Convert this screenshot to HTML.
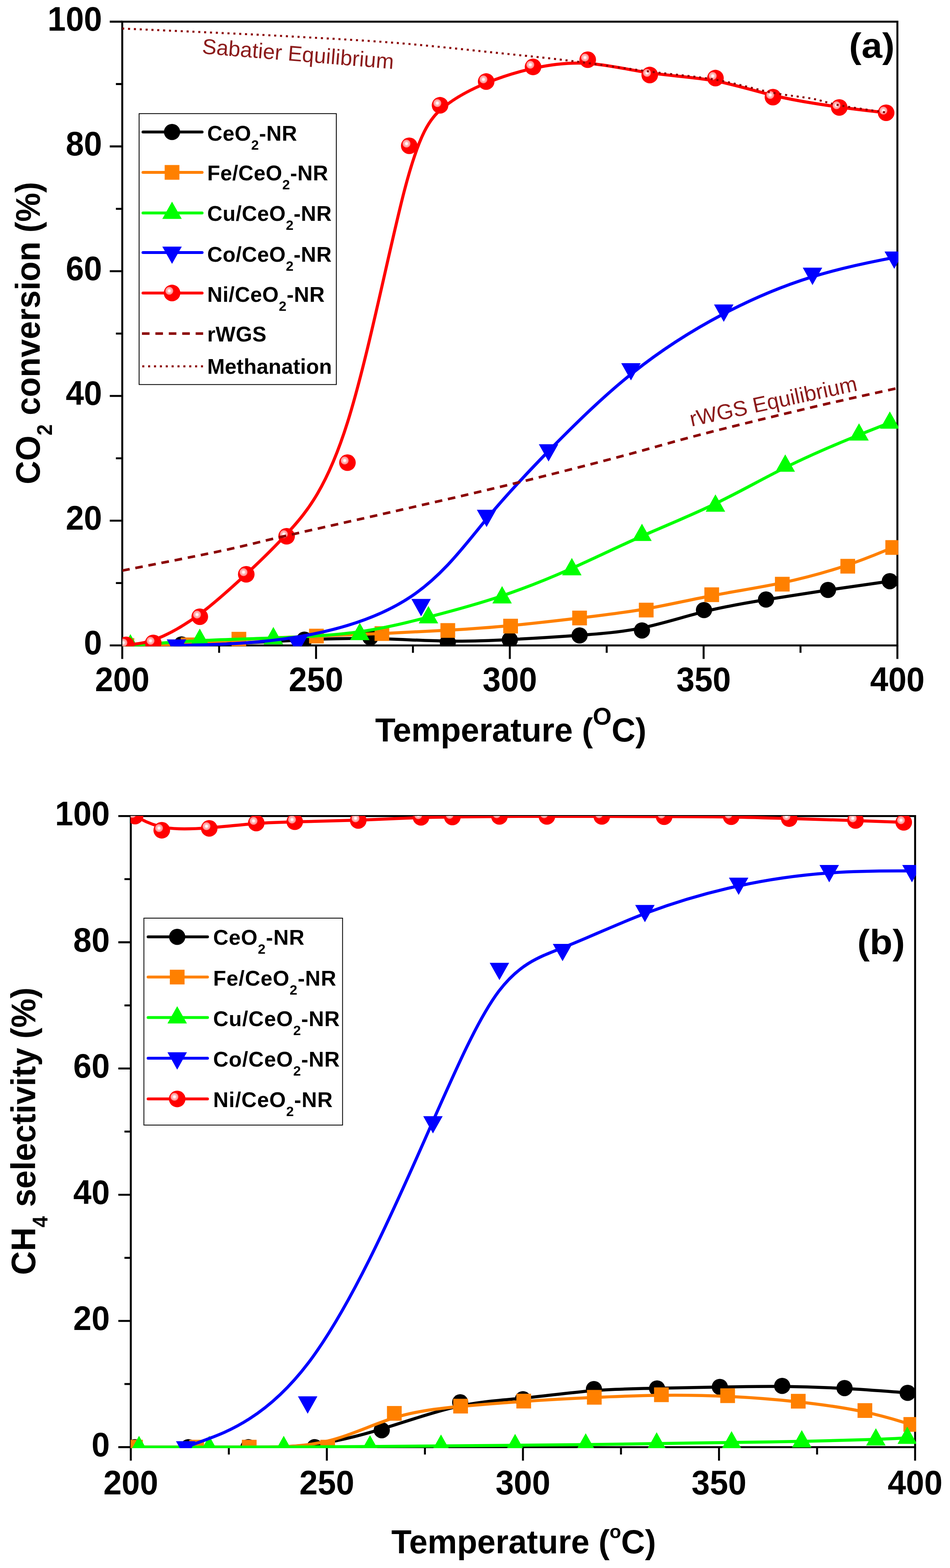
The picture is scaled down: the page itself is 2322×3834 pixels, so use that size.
<!DOCTYPE html>
<html lang="en">
<head>
<meta charset="utf-8">
<title>CO2 conversion and CH4 selectivity vs temperature</title>
<style>
html,body{margin:0;padding:0;background:#fff;}
body{width:2322px;height:3834px;overflow:hidden;}
svg{display:block;}
text{font-family:"Liberation Sans", sans-serif;fill:#000;}
.tk{font-size:82.7px;font-weight:bold;}
.ax{font-size:81px;font-weight:bold;}
.lg{font-size:51.5px;font-weight:bold;letter-spacing:0.55px;}
#chart-b .lg{font-size:51.8px;letter-spacing:0.95px;}
#chart-b .tk{font-size:83.2px;}
.pl{font-size:86px;font-weight:bold;}
.eq{font-size:52.5px;fill:#8b1a1a;}
</style>
</head>
<body>
<svg width="2322" height="3834" viewBox="0 0 2322 3834" role="img" aria-label="CO2 conversion and CH4 selectivity versus temperature">
<defs>
<radialGradient id="sph" cx="0.335" cy="0.37" r="0.25" fx="0.335" fy="0.37" gradientUnits="objectBoundingBox">
<stop offset="0" stop-color="#fff"/><stop offset="0.22" stop-color="#fff"/><stop offset="0.42" stop-color="#ffc4c4"/><stop offset="0.88" stop-color="#ff8c8c"/><stop offset="1" stop-color="#ff0000"/>
</radialGradient>
<clipPath id="clipa"><rect x="299.1" y="53.3" width="1896.6" height="1527.0"/></clipPath>
<clipPath id="clipb"><rect x="319.2" y="1994.9" width="1920.0" height="1546.1"/></clipPath>
</defs>
<rect width="2322" height="3834" fill="#fff"/>
<g id="chart-a">
<rect x="298.8" y="53.0" width="1894.6" height="1525.2" fill="none" stroke="#000" stroke-width="4.8"/>
<path d="M298.8,1578.2h-30.5M298.8,1425.7h-15.5M298.8,1273.2h-30.5M298.8,1120.6h-15.5M298.8,968.1h-30.5M298.8,815.6h-15.5M298.8,663.1h-30.5M298.8,510.6h-15.5M298.8,358.0h-30.5M298.8,205.5h-15.5M298.8,53.0h-30.5M298.8,1578.2v33.0M535.6,1578.2v18.0M772.5,1578.2v33.0M1009.3,1578.2v18.0M1246.1,1578.2v33.0M1482.9,1578.2v18.0M1719.8,1578.2v33.0M1956.6,1578.2v18.0M2193.4,1578.2v33.0" stroke="#000" stroke-width="4.8" fill="none"/>
<g clip-path="url(#clipa)">
<path d="M308.3,1578.2C308.3,1578.2 308.3,1578.2 330.9,1577.8C353.4,1577.4 398.6,1576.7 444.4,1575.9C490.2,1575.1 536.6,1574.4 586.6,1572.4C636.7,1570.4 690.4,1567.2 744.0,1564.7C797.7,1562.1 851.4,1560.3 909.8,1561.3C968.2,1562.4 1031.4,1566.5 1088.2,1567.5C1145.1,1568.5 1195.6,1566.5 1249.3,1563.7C1302.9,1560.9 1359.8,1557.4 1413.6,1553.5C1467.5,1549.7 1518.3,1545.7 1569.0,1535.3C1619.7,1525.0 1670.2,1508.3 1720.7,1495.7C1771.2,1483.1 1821.7,1474.5 1872.3,1466.3C1922.8,1458.1 1973.3,1450.3 2023.8,1442.8C2074.2,1435.3 2124.6,1428.2 2149.7,1424.7C2174.9,1421.1 2174.9,1421.1 2174.9,1421.1" fill="none" stroke="#000" stroke-width="7.5" stroke-linejoin="round" />
<circle cx="308.3" cy="1578.2" r="19.8" fill="#000"/>
<circle cx="443.7" cy="1575.9" r="19.8" fill="#000"/>
<circle cx="583.0" cy="1573.6" r="19.8" fill="#000"/>
<circle cx="744.0" cy="1564.0" r="19.8" fill="#000"/>
<circle cx="905.1" cy="1558.4" r="19.8" fill="#000"/>
<circle cx="1094.5" cy="1570.6" r="19.8" fill="#000"/>
<circle cx="1246.1" cy="1564.5" r="19.8" fill="#000"/>
<circle cx="1416.6" cy="1553.8" r="19.8" fill="#000"/>
<circle cx="1569.1" cy="1541.6" r="19.8" fill="#000"/>
<circle cx="1720.7" cy="1491.7" r="19.8" fill="#000"/>
<circle cx="1872.3" cy="1465.9" r="19.8" fill="#000"/>
<circle cx="2023.8" cy="1442.5" r="19.8" fill="#000"/>
<circle cx="2174.9" cy="1421.1" r="19.8" fill="#000"/>
<path d="M310.2,1578.2C310.2,1578.2 310.2,1578.2 335.1,1577.9C360.1,1577.7 409.9,1577.2 455.6,1574.6C501.2,1572.1 542.6,1567.5 594.8,1564.0C647.1,1560.4 710.2,1557.9 768.5,1555.6C826.8,1553.3 880.1,1551.3 933.6,1549.0C987.2,1546.7 1040.9,1544.1 1093.3,1541.1C1145.7,1538.0 1196.8,1534.5 1250.5,1529.4C1304.2,1524.3 1360.4,1517.7 1415.7,1511.2C1470.9,1504.6 1525.2,1498.2 1579.1,1488.7C1632.9,1479.2 1686.3,1466.7 1741.7,1456.2C1797.1,1445.6 1854.6,1437.0 1910.0,1425.4C1965.4,1413.8 2018.8,1399.1 2063.8,1384.2C2108.8,1369.2 2145.4,1354.0 2163.7,1346.4C2182.0,1338.7 2182.0,1338.7 2182.0,1338.7" fill="none" stroke="#ff8000" stroke-width="7.5" stroke-linejoin="round" />
<rect x="292.2" y="1560.2" width="36.0" height="36.0" fill="#ff8000"/>
<rect x="441.8" y="1558.7" width="36.0" height="36.0" fill="#ff8000"/>
<rect x="565.9" y="1544.9" width="36.0" height="36.0" fill="#ff8000"/>
<rect x="755.4" y="1537.3" width="36.0" height="36.0" fill="#ff8000"/>
<rect x="915.5" y="1531.2" width="36.0" height="36.0" fill="#ff8000"/>
<rect x="1076.5" y="1523.6" width="36.0" height="36.0" fill="#ff8000"/>
<rect x="1230.0" y="1512.9" width="36.0" height="36.0" fill="#ff8000"/>
<rect x="1398.6" y="1493.1" width="36.0" height="36.0" fill="#ff8000"/>
<rect x="1561.5" y="1473.7" width="36.0" height="36.0" fill="#ff8000"/>
<rect x="1721.6" y="1436.2" width="36.0" height="36.0" fill="#ff8000"/>
<rect x="1894.1" y="1410.4" width="36.0" height="36.0" fill="#ff8000"/>
<rect x="2054.1" y="1366.5" width="36.0" height="36.0" fill="#ff8000"/>
<rect x="2164.0" y="1320.7" width="36.0" height="36.0" fill="#ff8000"/>
<path d="M318.7,1578.2C318.7,1578.2 318.7,1578.2 347.0,1576.0C375.2,1573.8 431.7,1569.4 490.0,1566.5C548.3,1563.6 608.3,1562.2 673.5,1559.8C738.7,1557.5 809.1,1554.1 872.2,1545.6C935.4,1537.0 991.3,1523.3 1049.2,1508.3C1107.2,1493.3 1167.2,1477.0 1225.6,1457.5C1284.0,1437.9 1340.8,1415.0 1397.8,1389.6C1454.8,1364.2 1512.0,1336.2 1570.5,1310.3C1629.0,1284.3 1688.9,1260.5 1747.2,1232.2C1805.6,1204.0 1862.4,1171.5 1920.9,1142.5C1979.4,1113.5 2039.5,1088.1 2082.1,1070.6C2124.7,1053.0 2149.8,1043.4 2162.4,1038.5C2174.9,1033.7 2174.9,1033.7 2174.9,1033.7" fill="none" stroke="#00ff00" stroke-width="7.5" stroke-linejoin="round" />
<polygon points="318.7,1550.4 294.9,1592.8 342.5,1592.8" fill="#00ff00"/>
<polygon points="488.3,1537.1 464.5,1579.5 512.1,1579.5" fill="#00ff00"/>
<polygon points="668.2,1533.0 644.4,1575.4 692.0,1575.4" fill="#00ff00"/>
<polygon points="879.5,1522.9 855.7,1565.3 903.3,1565.3" fill="#00ff00"/>
<polygon points="1047.2,1481.8 1023.4,1524.2 1071.0,1524.2" fill="#00ff00"/>
<polygon points="1227.2,1433.0 1203.4,1475.4 1251.0,1475.4" fill="#00ff00"/>
<polygon points="1397.7,1364.3 1373.9,1406.7 1421.5,1406.7" fill="#00ff00"/>
<polygon points="1569.1,1280.4 1545.3,1322.8 1592.9,1322.8" fill="#00ff00"/>
<polygon points="1748.7,1208.8 1724.9,1251.2 1772.5,1251.2" fill="#00ff00"/>
<polygon points="1919.3,1111.1 1895.5,1153.5 1943.1,1153.5" fill="#00ff00"/>
<polygon points="2099.6,1034.9 2075.8,1077.3 2123.4,1077.3" fill="#00ff00"/>
<polygon points="2174.9,1005.9 2151.1,1048.3 2198.7,1048.3" fill="#00ff00"/>
<path d="M431.4,1578.2C431.4,1578.2 431.4,1578.2 480.7,1577.1C529.9,1575.9 628.5,1573.6 728.1,1557.1C827.7,1540.6 928.4,1509.8 1005.5,1458.1C1082.5,1406.4 1135.9,1333.7 1187.8,1270.6C1239.8,1207.6 1290.3,1154.2 1349.1,1094.5C1408.0,1034.7 1475.1,968.6 1546.5,911.7C1617.8,854.7 1693.4,807.0 1767.4,768.1C1841.3,729.2 1913.6,699.2 1983.1,677.6C2052.6,656.0 2119.2,642.7 2152.5,636.1C2185.8,629.5 2185.8,629.5 2185.8,629.5" fill="none" stroke="#0000ff" stroke-width="7.5" stroke-linejoin="round" />
<polygon points="431.4,1606.0 407.6,1563.6 455.2,1563.6" fill="#0000ff"/>
<polygon points="727.0,1599.1 703.2,1556.7 750.8,1556.7" fill="#0000ff"/>
<polygon points="1029.2,1506.9 1005.4,1464.5 1053.0,1464.5" fill="#0000ff"/>
<polygon points="1189.3,1288.8 1165.5,1246.4 1213.1,1246.4" fill="#0000ff"/>
<polygon points="1340.8,1128.6 1317.0,1086.2 1364.6,1086.2" fill="#0000ff"/>
<polygon points="1542.2,930.3 1518.4,887.9 1566.0,887.9" fill="#0000ff"/>
<polygon points="1769.0,787.0 1745.2,744.6 1792.8,744.6" fill="#0000ff"/>
<polygon points="1985.9,697.0 1962.1,654.6 2009.7,654.6" fill="#0000ff"/>
<polygon points="2185.8,657.3 2162.0,614.9 2209.6,614.9" fill="#0000ff"/>
<path d="M308.3,1576.7C308.3,1576.7 308.3,1576.7 319.3,1575.9C330.4,1575.1 352.5,1573.6 382.5,1562.2C412.5,1550.7 450.4,1529.4 488.3,1501.4C526.2,1473.5 564.0,1438.9 599.4,1406.1C634.8,1373.3 667.6,1342.3 708.8,1296.8C750.0,1251.3 799.6,1191.3 849.6,1032.2C899.5,873.0 949.9,614.8 987.6,469.1C1025.4,323.5 1050.5,290.4 1081.8,264.2C1113.2,238.1 1150.7,218.7 1188.6,203.1C1226.5,187.5 1264.7,175.5 1306.1,166.6C1347.5,157.7 1392.0,151.9 1439.5,155.2C1487.0,158.5 1537.6,170.9 1589.6,178.4C1641.6,185.9 1695.2,188.4 1745.4,197.4C1795.6,206.4 1842.5,222.0 1892.9,234.0C1943.3,245.9 1997.3,254.3 2043.4,260.7C2089.5,267.0 2127.7,271.4 2146.8,273.5C2165.9,275.7 2165.9,275.7 2165.9,275.7" fill="none" stroke="#ff0000" stroke-width="7.5" stroke-linejoin="round" />
<circle cx="308.3" cy="1576.7" r="20.3" fill="url(#sph)"/>
<circle cx="374.6" cy="1572.1" r="20.3" fill="url(#sph)"/>
<circle cx="488.3" cy="1508.0" r="20.3" fill="url(#sph)"/>
<circle cx="601.9" cy="1404.3" r="20.3" fill="url(#sph)"/>
<circle cx="700.5" cy="1311.3" r="20.3" fill="url(#sph)"/>
<circle cx="849.2" cy="1131.3" r="20.3" fill="url(#sph)"/>
<circle cx="1000.3" cy="356.5" r="20.3" fill="url(#sph)"/>
<circle cx="1075.6" cy="257.4" r="20.3" fill="url(#sph)"/>
<circle cx="1188.3" cy="199.4" r="20.3" fill="url(#sph)"/>
<circle cx="1302.9" cy="163.6" r="20.3" fill="url(#sph)"/>
<circle cx="1436.5" cy="146.0" r="20.3" fill="url(#sph)"/>
<circle cx="1588.1" cy="183.4" r="20.3" fill="url(#sph)"/>
<circle cx="1748.7" cy="190.9" r="20.3" fill="url(#sph)"/>
<circle cx="1889.3" cy="237.5" r="20.3" fill="url(#sph)"/>
<circle cx="2051.3" cy="262.7" r="20.3" fill="url(#sph)"/>
<circle cx="2165.9" cy="275.7" r="20.3" fill="url(#sph)"/>
<path d="M298.8,1395.2C338.4,1387.3 469.6,1362.1 536.6,1347.9C603.5,1333.7 628.5,1326.2 700.5,1309.8C772.4,1293.3 878.7,1269.8 968.1,1249.4C1057.4,1228.9 1148.0,1208.6 1236.6,1187.1C1325.3,1165.7 1419.8,1141.6 1500.0,1120.6C1580.2,1099.6 1636.9,1082.0 1717.9,1061.2C1798.8,1040.3 1906.7,1014.3 1985.9,995.6C2065.2,976.9 2158.8,956.8 2193.4,949.1" fill="none" stroke="#8b0000" stroke-linejoin="round" stroke-dasharray="18.5 14.1" stroke-width="6.4"/>
<path d="M298.8,69.8C338.4,71.6 469.8,77.3 536.6,80.5C603.4,83.6 627.6,84.5 699.5,88.5C771.4,92.6 878.5,97.7 968.1,104.9C1057.6,112.0 1165.0,124.2 1236.6,131.5C1308.2,138.9 1339.1,141.8 1397.7,149.1C1456.2,156.3 1529.7,167.4 1588.1,175.0C1646.5,182.6 1698.0,186.2 1748.2,194.8C1798.4,203.5 1849.7,219.1 1889.3,226.9C1928.9,234.6 1958.9,236.3 1985.9,241.4C2012.9,246.4 2020.5,251.7 2051.3,257.4C2082.1,263.1 2150.8,272.6 2170.7,275.7" fill="none" stroke="#8b0000" stroke-linejoin="round" stroke-dasharray="5 9.3" stroke-width="4.9"/>
</g>
<text transform="translate(249.5,1600.2) scale(0.966,1)" text-anchor="end" class="tk">0</text>
<text transform="translate(249.5,1295.2) scale(0.966,1)" text-anchor="end" class="tk">20</text>
<text transform="translate(249.5,990.1) scale(0.966,1)" text-anchor="end" class="tk">40</text>
<text transform="translate(249.5,685.1) scale(0.966,1)" text-anchor="end" class="tk">60</text>
<text transform="translate(249.5,380.0) scale(0.966,1)" text-anchor="end" class="tk">80</text>
<text transform="translate(249.5,75.0) scale(0.966,1)" text-anchor="end" class="tk">100</text>
<text transform="translate(298.8,1690.0) scale(0.966,1)" text-anchor="middle" class="tk">200</text>
<text transform="translate(772.5,1690.0) scale(0.966,1)" text-anchor="middle" class="tk">250</text>
<text transform="translate(1246.1,1690.0) scale(0.966,1)" text-anchor="middle" class="tk">300</text>
<text transform="translate(1719.8,1690.0) scale(0.966,1)" text-anchor="middle" class="tk">350</text>
<text transform="translate(2193.4,1690.0) scale(0.966,1)" text-anchor="middle" class="tk">400</text>
<rect x="340.0" y="277.8" width="482.0" height="662.5" fill="#fff" stroke="#000" stroke-width="2"/>
<path d="M349.5,322.7H494.0" stroke="#000" stroke-width="7.0" stroke-linecap="round"/>
<circle cx="420.5" cy="322.7" r="19.8" fill="#000"/>
<text x="506.5" y="344.0" class="lg">CeO<tspan dy="22" font-size="33.5">2</tspan><tspan dy="-22">-NR</tspan></text>
<path d="M349.5,421.5H494.0" stroke="#ff8000" stroke-width="7.0" stroke-linecap="round"/>
<rect x="402.5" y="403.5" width="36.0" height="36.0" fill="#ff8000"/>
<text x="506.5" y="441.0" class="lg">Fe/CeO<tspan dy="22" font-size="33.5">2</tspan><tspan dy="-22">-NR</tspan></text>
<path d="M349.5,520.7H494.0" stroke="#00ff00" stroke-width="7.0" stroke-linecap="round"/>
<polygon points="420.5,492.9 396.7,535.3 444.3,535.3" fill="#00ff00"/>
<text x="506.5" y="539.8" class="lg">Cu/CeO<tspan dy="22" font-size="33.5">2</tspan><tspan dy="-22">-NR</tspan></text>
<path d="M349.5,617.5H494.0" stroke="#0000ff" stroke-width="7.0" stroke-linecap="round"/>
<polygon points="420.5,645.3 396.7,602.9 444.3,602.9" fill="#0000ff"/>
<text x="506.5" y="639.7" class="lg">Co/CeO<tspan dy="22" font-size="33.5">2</tspan><tspan dy="-22">-NR</tspan></text>
<path d="M349.5,716.4H494.0" stroke="#ff0000" stroke-width="7.0" stroke-linecap="round"/>
<circle cx="420.5" cy="716.4" r="20.3" fill="url(#sph)"/>
<text x="506.5" y="737.5" class="lg">Ni/CeO<tspan dy="22" font-size="33.5">2</tspan><tspan dy="-22">-NR</tspan></text>
<path d="M347.0,815.6H496.5" stroke="#8b0000" stroke-width="6.4" stroke-dasharray="18.5 14.3"/>
<text x="506.5" y="834.7" class="lg">rWGS</text>
<path d="M347.0,895.7H496.5" stroke="#8b0000" stroke-width="4.9" stroke-dasharray="5 9.35" stroke-dashoffset="-0.7"/>
<text x="506.5" y="914.4" class="lg" style="letter-spacing:0.15px">Methanation</text>
<text transform="translate(2131,141) scale(1.06,1)" text-anchor="middle" class="pl">(a)</text>
<text transform="translate(493,131) rotate(4.6)" class="eq">Sabatier Equilibrium</text>
<text transform="translate(1690,1043) rotate(-12.2)" class="eq">rWGS Equilibrium</text>
<text x="917" y="1812.5" class="ax" textLength="663" lengthAdjust="spacing">Temperature (<tspan dy="-41" font-size="59">O</tspan><tspan dy="41">C)</tspan></text>
<text transform="translate(97,814.5) rotate(-90) scale(0.9826,1.035)" text-anchor="middle" class="ax">CO<tspan dy="29" font-size="50">2</tspan><tspan dy="-29"> conversion (%)</tspan></text>
</g>
<g id="chart-b">
<rect x="319.7" y="1995.4" width="1917.0" height="1543.1" fill="none" stroke="#000" stroke-width="4.8"/>
<path d="M319.7,3538.5h-30.5M319.7,3384.2h-15.5M319.7,3229.9h-30.5M319.7,3075.6h-15.5M319.7,2921.3h-30.5M319.7,2766.9h-15.5M319.7,2612.6h-30.5M319.7,2458.3h-15.5M319.7,2304.0h-30.5M319.7,2149.7h-15.5M319.7,1995.4h-30.5M319.7,3538.5v33.0M559.3,3538.5v18.0M798.9,3538.5v33.0M1038.6,3538.5v18.0M1278.2,3538.5v33.0M1517.8,3538.5v18.0M1757.4,3538.5v33.0M1997.1,3538.5v18.0M2236.7,3538.5v33.0" stroke="#000" stroke-width="4.8" fill="none"/>
<g clip-path="url(#clipb)">
<path d="M329.3,3538.5C329.3,3538.5 329.3,3538.5 351.2,3538.5C373.1,3538.5 416.8,3538.5 463.2,3538.5C509.5,3538.5 558.4,3538.5 609.8,3538.5C661.2,3538.5 715.2,3538.5 769.6,3531.6C823.9,3524.7 878.5,3510.9 937.8,3492.7C997.0,3474.4 1060.9,3451.7 1118.5,3439.0C1176.0,3426.4 1227.1,3423.8 1281.6,3418.4C1336.0,3413.0 1393.9,3404.8 1448.5,3400.4C1503.1,3396.0 1554.6,3395.5 1605.8,3394.6C1657.1,3393.8 1708.2,3392.5 1759.2,3391.5C1810.2,3390.5 1861.0,3389.6 1911.8,3390.1C1962.6,3390.6 2013.4,3392.3 2064.5,3395.1C2115.6,3398.0 2167.0,3401.9 2192.8,3403.8C2218.5,3405.8 2218.5,3405.8 2218.5,3405.8" fill="none" stroke="#000" stroke-width="7.5" stroke-linejoin="round" />
<circle cx="329.3" cy="3538.5" r="19.8" fill="#000"/>
<circle cx="460.6" cy="3538.5" r="19.8" fill="#000"/>
<circle cx="607.2" cy="3538.5" r="19.8" fill="#000"/>
<circle cx="769.2" cy="3538.5" r="19.8" fill="#000"/>
<circle cx="933.1" cy="3497.1" r="19.8" fill="#000"/>
<circle cx="1124.8" cy="3428.9" r="19.8" fill="#000"/>
<circle cx="1278.2" cy="3421.2" r="19.8" fill="#000"/>
<circle cx="1451.7" cy="3396.5" r="19.8" fill="#000"/>
<circle cx="1606.0" cy="3395.0" r="19.8" fill="#000"/>
<circle cx="1759.4" cy="3391.3" r="19.8" fill="#000"/>
<circle cx="1911.8" cy="3388.8" r="19.8" fill="#000"/>
<circle cx="2064.2" cy="3394.1" r="19.8" fill="#000"/>
<circle cx="2218.5" cy="3405.8" r="19.8" fill="#000"/>
<path d="M331.2,3538.5C331.2,3538.5 331.2,3538.5 356.1,3538.5C381.0,3538.5 430.9,3538.5 477.2,3538.5C523.5,3538.5 566.4,3538.5 619.7,3538.5C673.1,3538.5 737.0,3538.5 796.1,3524.7C855.2,3511.0 909.5,3483.5 963.7,3466.7C1017.8,3450.0 1071.8,3444.1 1124.5,3439.1C1177.2,3434.1 1228.7,3430.0 1283.2,3426.4C1337.6,3422.8 1395.1,3419.7 1451.2,3417.1C1507.3,3414.5 1561.9,3412.5 1616.2,3411.8C1670.5,3411.2 1724.5,3412.0 1780.3,3414.6C1836.0,3417.2 1893.6,3421.7 1949.5,3427.7C2005.4,3433.8 2059.7,3441.4 2105.5,3450.9C2151.4,3460.3 2188.8,3471.6 2207.5,3477.3C2226.2,3482.9 2226.2,3482.9 2226.2,3482.9" fill="none" stroke="#ff8000" stroke-width="7.5" stroke-linejoin="round" />
<rect x="313.2" y="3520.5" width="36.0" height="36.0" fill="#ff8000"/>
<rect x="462.7" y="3520.5" width="36.0" height="36.0" fill="#ff8000"/>
<rect x="591.2" y="3520.5" width="36.0" height="36.0" fill="#ff8000"/>
<rect x="782.9" y="3520.5" width="36.0" height="36.0" fill="#ff8000"/>
<rect x="945.8" y="3437.9" width="36.0" height="36.0" fill="#ff8000"/>
<rect x="1107.8" y="3420.2" width="36.0" height="36.0" fill="#ff8000"/>
<rect x="1262.1" y="3407.9" width="36.0" height="36.0" fill="#ff8000"/>
<rect x="1434.6" y="3398.6" width="36.0" height="36.0" fill="#ff8000"/>
<rect x="1598.6" y="3392.4" width="36.0" height="36.0" fill="#ff8000"/>
<rect x="1760.5" y="3394.7" width="36.0" height="36.0" fill="#ff8000"/>
<rect x="1933.1" y="3408.2" width="36.0" height="36.0" fill="#ff8000"/>
<rect x="2096.0" y="3431.0" width="36.0" height="36.0" fill="#ff8000"/>
<rect x="2208.2" y="3464.9" width="36.0" height="36.0" fill="#ff8000"/>
<path d="M339.8,3538.5C339.8,3538.5 339.8,3538.5 368.4,3538.5C397.0,3538.5 454.2,3538.5 513.2,3538.5C572.1,3538.5 632.8,3538.5 698.3,3538.2C763.8,3538.0 834.1,3537.5 898.2,3537.0C962.2,3536.4 1020.0,3535.9 1079.2,3535.4C1138.3,3534.9 1198.6,3534.4 1257.6,3533.9C1316.5,3533.4 1374.0,3532.8 1431.7,3532.2C1489.4,3531.5 1547.2,3530.7 1606.6,3529.8C1666.1,3528.9 1727.1,3528.0 1786.2,3527.1C1845.3,3526.3 1902.5,3525.4 1961.3,3524.3C2020.1,3523.1 2080.5,3521.5 2123.4,3520.1C2166.4,3518.6 2192.0,3517.3 2204.7,3516.6C2217.5,3516.0 2217.5,3516.0 2217.5,3516.0" fill="none" stroke="#00ff00" stroke-width="7.5" stroke-linejoin="round" />
<polygon points="339.8,3510.7 316.0,3553.1 363.6,3553.1" fill="#00ff00"/>
<polygon points="511.4,3510.7 487.6,3553.1 535.2,3553.1" fill="#00ff00"/>
<polygon points="693.5,3510.7 669.7,3553.1 717.3,3553.1" fill="#00ff00"/>
<polygon points="904.4,3509.2 880.6,3551.6 928.2,3551.6" fill="#00ff00"/>
<polygon points="1077.9,3507.6 1054.1,3550.0 1101.7,3550.0" fill="#00ff00"/>
<polygon points="1259.0,3506.1 1235.2,3548.5 1282.8,3548.5" fill="#00ff00"/>
<polygon points="1431.6,3504.5 1407.8,3546.9 1455.4,3546.9" fill="#00ff00"/>
<polygon points="1605.0,3502.1 1581.2,3544.5 1628.8,3544.5" fill="#00ff00"/>
<polygon points="1788.1,3499.3 1764.3,3541.7 1811.9,3541.7" fill="#00ff00"/>
<polygon points="1959.7,3496.8 1935.9,3539.2 1983.5,3539.2" fill="#00ff00"/>
<polygon points="2140.8,3492.2 2117.0,3534.6 2164.6,3534.6" fill="#00ff00"/>
<polygon points="2217.5,3488.2 2193.7,3530.6 2241.3,3530.6" fill="#00ff00"/>
<path d="M453.9,3538.5C453.9,3538.5 453.9,3538.5 503.6,3520.2C553.3,3502.0 652.6,3465.5 753.3,3333.0C854.1,3200.6 956.1,2972.2 1034.3,2795.5C1112.4,2618.8 1166.5,2493.8 1219.3,2423.6C1272.1,2353.4 1323.6,2338.0 1382.8,2314.4C1442.1,2290.8 1509.2,2259.1 1580.9,2232.1C1652.7,2205.1 1729.0,2182.8 1804.1,2166.5C1879.2,2150.2 1953.0,2139.9 2023.6,2134.8C2094.2,2129.6 2161.6,2129.6 2195.3,2129.6C2229.0,2129.6 2229.0,2129.6 2229.0,2129.6" fill="none" stroke="#0000ff" stroke-width="7.5" stroke-linejoin="round" />
<polygon points="453.9,3566.3 430.1,3523.9 477.7,3523.9" fill="#0000ff"/>
<polygon points="752.0,3456.7 728.2,3414.3 775.8,3414.3" fill="#0000ff"/>
<polygon points="1058.2,2771.6 1034.4,2729.2 1082.0,2729.2" fill="#0000ff"/>
<polygon points="1220.7,2396.6 1196.9,2354.2 1244.5,2354.2" fill="#0000ff"/>
<polygon points="1375.0,2350.3 1351.2,2307.9 1398.8,2307.9" fill="#0000ff"/>
<polygon points="1576.3,2255.1 1552.5,2212.7 1600.1,2212.7" fill="#0000ff"/>
<polygon points="1805.4,2188.3 1781.6,2145.9 1829.2,2145.9" fill="#0000ff"/>
<polygon points="2026.8,2157.4 2003.0,2115.0 2050.6,2115.0" fill="#0000ff"/>
<polygon points="2229.0,2157.4 2205.2,2115.0 2252.8,2115.0" fill="#0000ff"/>
<path d="M330.2,1995.4C330.2,1995.4 330.2,1995.4 341.1,2001.2C352.0,2007.0 373.7,2018.5 403.9,2023.6C434.1,2028.6 472.7,2027.0 511.2,2024.1C549.7,2021.1 588.1,2016.7 622.9,2014.0C657.7,2011.3 689.0,2010.3 730.6,2009.3C772.1,2008.3 823.9,2007.2 875.3,2005.4C926.7,2003.6 977.9,2001.1 1016.2,1999.6C1054.5,1998.2 1080.1,1998.0 1112.1,1997.6C1144.0,1997.2 1182.3,1996.7 1220.8,1996.4C1259.3,1996.2 1298.0,1996.2 1339.7,1996.2C1381.4,1996.2 1426.1,1996.2 1473.9,1996.3C1521.7,1996.4 1572.5,1996.7 1625.2,1996.8C1677.9,1996.9 1732.5,1996.9 1783.5,1997.7C1834.4,1998.5 1881.7,2000.0 1932.4,2001.6C1983.0,2003.1 2037.0,2004.7 2083.7,2006.2C2130.3,2007.7 2169.6,2009.3 2189.3,2010.1C2208.9,2010.8 2208.9,2010.8 2208.9,2010.8" fill="none" stroke="#ff0000" stroke-width="7.5" stroke-linejoin="round" />
<circle cx="330.2" cy="1995.4" r="20.3" fill="url(#sph)"/>
<circle cx="395.4" cy="2030.1" r="20.3" fill="url(#sph)"/>
<circle cx="511.4" cy="2025.5" r="20.3" fill="url(#sph)"/>
<circle cx="626.4" cy="2012.4" r="20.3" fill="url(#sph)"/>
<circle cx="720.4" cy="2009.3" r="20.3" fill="url(#sph)"/>
<circle cx="875.6" cy="2006.2" r="20.3" fill="url(#sph)"/>
<circle cx="1029.0" cy="1998.5" r="20.3" fill="url(#sph)"/>
<circle cx="1105.7" cy="1997.7" r="20.3" fill="url(#sph)"/>
<circle cx="1220.7" cy="1996.2" r="20.3" fill="url(#sph)"/>
<circle cx="1336.7" cy="1996.2" r="20.3" fill="url(#sph)"/>
<circle cx="1470.9" cy="1996.2" r="20.3" fill="url(#sph)"/>
<circle cx="1623.3" cy="1996.9" r="20.3" fill="url(#sph)"/>
<circle cx="1787.2" cy="1996.9" r="20.3" fill="url(#sph)"/>
<circle cx="1929.0" cy="2001.6" r="20.3" fill="url(#sph)"/>
<circle cx="2091.0" cy="2006.2" r="20.3" fill="url(#sph)"/>
<circle cx="2208.9" cy="2010.8" r="20.3" fill="url(#sph)"/>
</g>
<text transform="translate(268.5,3561.0) scale(0.966,1)" text-anchor="end" class="tk">0</text>
<text transform="translate(268.5,3252.4) scale(0.966,1)" text-anchor="end" class="tk">20</text>
<text transform="translate(268.5,2943.8) scale(0.966,1)" text-anchor="end" class="tk">40</text>
<text transform="translate(268.5,2635.1) scale(0.966,1)" text-anchor="end" class="tk">60</text>
<text transform="translate(268.5,2326.5) scale(0.966,1)" text-anchor="end" class="tk">80</text>
<text transform="translate(268.5,2017.9) scale(0.966,1)" text-anchor="end" class="tk">100</text>
<text transform="translate(319.7,3653.5) scale(0.966,1)" text-anchor="middle" class="tk">200</text>
<text transform="translate(798.9,3653.5) scale(0.966,1)" text-anchor="middle" class="tk">250</text>
<text transform="translate(1278.2,3653.5) scale(0.966,1)" text-anchor="middle" class="tk">300</text>
<text transform="translate(1757.4,3653.5) scale(0.966,1)" text-anchor="middle" class="tk">350</text>
<text transform="translate(2236.7,3653.5) scale(0.966,1)" text-anchor="middle" class="tk">400</text>
<rect x="351.7" y="2245.0" width="485.6" height="506.0" fill="#fff" stroke="#000" stroke-width="2"/>
<path d="M362.0,2290.8H507.2" stroke="#000" stroke-width="7.0" stroke-linecap="round"/>
<circle cx="433.1" cy="2290.8" r="19.8" fill="#000"/>
<text x="521.0" y="2310.0" class="lg">CeO<tspan dy="22" font-size="33.5">2</tspan><tspan dy="-22">-NR</tspan></text>
<path d="M362.0,2389.1H507.2" stroke="#ff8000" stroke-width="7.0" stroke-linecap="round"/>
<rect x="415.1" y="2371.1" width="36.0" height="36.0" fill="#ff8000"/>
<text x="521.0" y="2410.0" class="lg">Fe/CeO<tspan dy="22" font-size="33.5">2</tspan><tspan dy="-22">-NR</tspan></text>
<path d="M362.0,2488.0H507.2" stroke="#00ff00" stroke-width="7.0" stroke-linecap="round"/>
<polygon points="433.1,2460.2 409.3,2502.6 456.9,2502.6" fill="#00ff00"/>
<text x="521.0" y="2509.0" class="lg">Cu/CeO<tspan dy="22" font-size="33.5">2</tspan><tspan dy="-22">-NR</tspan></text>
<path d="M362.0,2587.6H507.2" stroke="#0000ff" stroke-width="7.0" stroke-linecap="round"/>
<polygon points="433.1,2615.4 409.3,2573.0 456.9,2573.0" fill="#0000ff"/>
<text x="521.0" y="2608.0" class="lg">Co/CeO<tspan dy="22" font-size="33.5">2</tspan><tspan dy="-22">-NR</tspan></text>
<path d="M362.0,2687.1H507.2" stroke="#ff0000" stroke-width="7.0" stroke-linecap="round"/>
<circle cx="433.1" cy="2687.1" r="20.3" fill="url(#sph)"/>
<text x="521.0" y="2707.0" class="lg">Ni/CeO<tspan dy="22" font-size="33.5">2</tspan><tspan dy="-22">-NR</tspan></text>
<text transform="translate(2153.6,2333.4) scale(1.06,1)" text-anchor="middle" class="pl">(b)</text>
<text x="956.5" y="3798.4" class="ax" textLength="647" lengthAdjust="spacing">Temperature (<tspan dy="-37" font-size="46">o</tspan><tspan dy="37">C)</tspan></text>
<text transform="translate(85.5,2766) rotate(-90) scale(0.9936,1.035)" text-anchor="middle" class="ax">CH<tspan dy="29" font-size="50">4</tspan><tspan dy="-29"> selectivity (%)</tspan></text>
</g>
</svg>
</body>
</html>
